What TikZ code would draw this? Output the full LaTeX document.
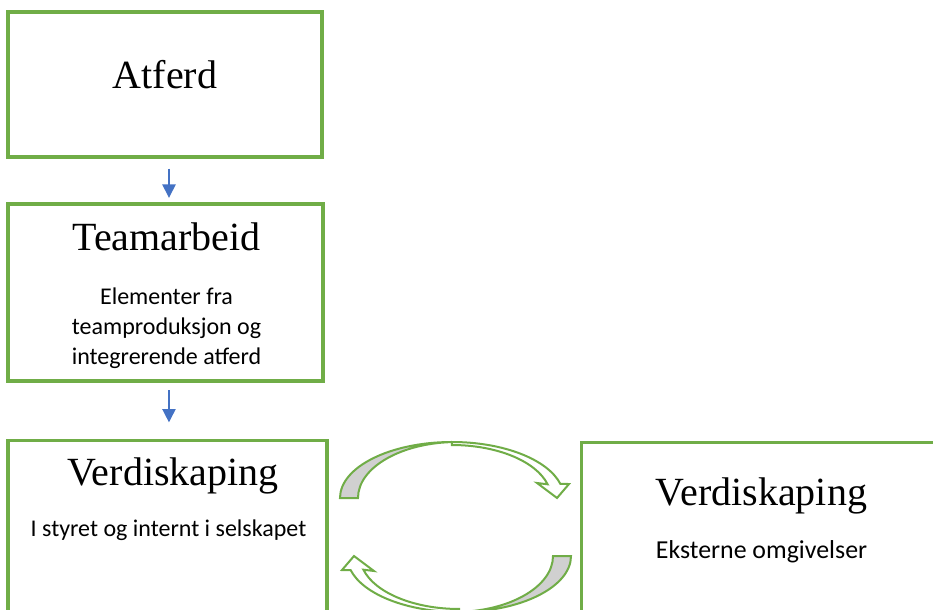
\documentclass[tikz,border=0pt]{standalone}
\usepackage{fontspec}
\newfontfamily\headfont{Liberation Serif}
\newfontfamily\notefont{Carlito}
\usetikzlibrary{arrows.meta}
\definecolor{boxgreen}{HTML}{70AD47}
\definecolor{arrowblue}{HTML}{4472C4}
\definecolor{bandgray}{HTML}{D0D0D0}
\tikzset{
  panel/.style={draw=boxgreen, line width=2.3pt, fill=white},
  heading/.style={anchor=base, inner sep=0pt, font=\headfont\fontsize{30}{36}\selectfont},
  note/.style={anchor=base, inner sep=0pt, align=center, font=\notefont\fontsize{18}{22.5}\selectfont},
  flow/.style={draw=arrowblue, line width=1.1pt, -{Triangle[width=10pt,length=10pt]}},
  band/.style={draw=boxgreen, line width=1.5pt, line join=miter}
}
% one curved block arrow, drawn in pixel units
\newcommand{\loopband}{%
  \draw[band, fill=bandgray] (340,498) arc[start angle=180, end angle=270, x radius=112, y radius=56]
    -- (457,442) arc[start angle=270, end angle=180, x radius=99, y radius=56] -- cycle;
  \draw[band, fill=white] (452,442) arc[start angle=270, end angle=345.5, x radius=112, y radius=56]
    -- (569,484) -- (557,498) -- (537,483) -- (547.6,484.3)
    arc[start angle=345, end angle=270, x radius=99, y radius=53] -- cycle;
}
\begin{document}
\begin{tikzpicture}[x=0.75pt, y=-0.75pt]
\useasboundingbox (0,0) rectangle (933,610);
\clip (0,0) rectangle (933,610);
% boxes
\node[panel, minimum width=235.5pt, minimum height=108.75pt] (atferd) at (165,84.5) {};
\node[panel, minimum width=236.25pt, minimum height=132.75pt] (team) at (165.5,292.5) {};
\node[panel, anchor=north, minimum width=239.25pt, minimum height=225pt] (verdint) at (167.5,439) {};
\node[panel, anchor=north west, minimum width=300pt, minimum height=225pt] (verdext) at (580,441) {};
% texts
\node[heading] (atferdtitle) at (165,89) {Atferd};
\node[heading] (teamtitle) at (166.5,250) {Teamarbeid};
\node[note] (teamnote) at (166.5,364) {Elementer fra\\teamproduksjon og\\integrerende atferd};
\node[heading] (verdinttitle) at (173,485) {Verdiskaping};
\node[note] (verdintnote) at (168.5,536) {I styret og internt i selskapet};
\node[heading] (verdexttitle) at (761.5,505) {Verdiskaping};
\node[note, font=\notefont\fontsize{19.4}{24}\selectfont] (verdextnote) at (761.5,558) {Eksterne omgivelser};
% arrows
\draw[flow, shorten <=7.5pt, shorten >=3.5pt] ([xshift=3pt]atferd.south) -- ([xshift=3pt]atferd.south |- team.north);
\draw[flow, shorten <=5.8pt, shorten >=12.5pt] ([xshift=2.6pt]team.south) -- ([xshift=2.6pt]team.south |- verdint.north);
\loopband
\begin{scope}[rotate around={180:(455.5,527)}]
\loopband
\end{scope}
\end{tikzpicture}
\end{document}
